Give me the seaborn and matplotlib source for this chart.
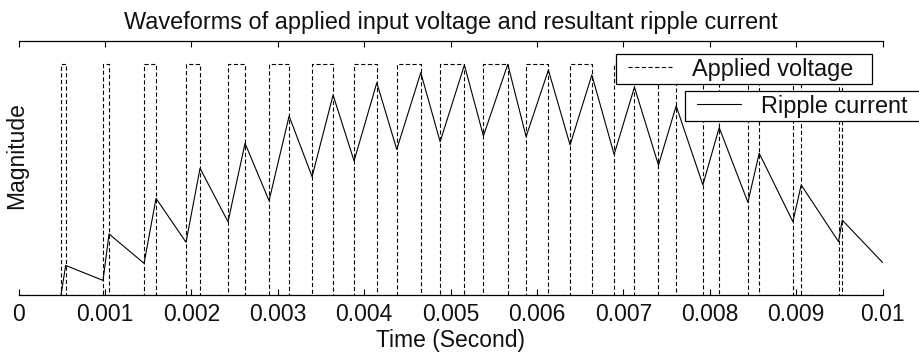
import matplotlib
matplotlib.use("Agg")
import matplotlib.pyplot as plt
from matplotlib.lines import Line2D
from matplotlib.legend_handler import HandlerLine2D
import numpy as np
import pandas as pd
import seaborn as sns

# PWM pulse edges (seconds)
pulse_rise = [0.000492, 0.000978, 0.001453, 0.001939, 0.002425, 0.002900, 0.003398,
              0.003884, 0.004378, 0.004880, 0.005381, 0.005875, 0.006384, 0.006894,
              0.007407, 0.007921, 0.008442, 0.008963, 0.009491]
pulse_fall = [0.000546, 0.001048, 0.001592, 0.002101, 0.002622, 0.003132, 0.003641,
              0.004147, 0.004656, 0.005161, 0.005663, 0.006133, 0.006636, 0.007129,
              0.007612, 0.008110, 0.008573, 0.009059, 0.009534]
voltage_high = 1.0

# ripple current at the pulse edges
current_at_rise = [0.000, 0.063, 0.137, 0.228, 0.317, 0.408, 0.512, 0.580, 0.630, 0.663,
                   0.688, 0.685, 0.649, 0.608, 0.562, 0.476, 0.401, 0.317, 0.231]
current_at_fall = [0.128, 0.264, 0.418, 0.548, 0.656, 0.774, 0.865, 0.918, 0.962, 0.995,
                   0.998, 0.973, 0.952, 0.899, 0.818, 0.724, 0.613, 0.476, 0.324]
t_end = 0.01
current_end = 0.141

xticks = [0, 0.001, 0.002, 0.003, 0.004, 0.005, 0.006, 0.007, 0.008, 0.009, 0.01]
xtick_labels = ["0", "0.001", "0.002", "0.003", "0.004", "0.005", "0.006",
                "0.007", "0.008", "0.009", "0.01"]

# square-wave voltage path
v_t, v_v = [0.0], [0.0]
for r, f in zip(pulse_rise, pulse_fall):
    v_t += [r, r, f, f]
    v_v += [0.0, voltage_high, voltage_high, 0.0]
v_t.append(t_end)
v_v.append(0.0)
voltage = pd.DataFrame({"t": v_t, "v": v_v})

# current path: rises during each pulse, decays between pulses
c_t, c_i = [], []
for r, f, ir, if_ in zip(pulse_rise, pulse_fall, current_at_rise, current_at_fall):
    c_t += [r, f]
    c_i += [ir, if_]
c_t.append(t_end)
c_i.append(current_end)
current = pd.DataFrame({"t": c_t, "i": c_i})

sns.set_theme(style="white")
plt.rcParams["font.family"] = ["Liberation Sans", "DejaVu Sans"]
plt.rcParams["lines.scale_dashes"] = False
FS_TICK = 16.5
FS_TEXT = 16.9
INK = "#111111"

W, H = 919, 356
fig = plt.figure(figsize=(W / 100, H / 100), dpi=100)
ax = fig.add_axes([18.5 / W, 1 - 295 / H, 864 / W, (295 - 40.7) / H])

dash = (0, (3.0, 1.8))
sns.lineplot(data=voltage, x="t", y="v", estimator=None, sort=False, ax=ax,
             color="black", linewidth=0.8, linestyle=dash)
sns.lineplot(data=current, x="t", y="i", estimator=None, sort=False, ax=ax,
             color="black", linewidth=0.8)

ax.set_xlim(0, 0.01)
ax.set_ylim(0, 1.1)
ax.set_xticks(xticks)
ax.set_xticklabels(xtick_labels, fontsize=FS_TICK, color=INK)
ax.set_yticks([])
ax.tick_params(axis="x", which="both", direction="in", length=4.5, width=0.8,
               color="black", top=True, bottom=True, pad=6)
for side in ["left", "right"]:
    ax.spines[side].set_visible(False)
for side in ["top", "bottom"]:
    ax.spines[side].set_color("black")
    ax.spines[side].set_linewidth(0.9)

ax.set_xlabel("Time (Second)", fontsize=FS_TICK, color=INK, labelpad=2)
ax.set_ylabel("Magnitude", fontsize=FS_TICK, color=INK)
ax.yaxis.set_label_coords(0.011, 0.547)
ax.set_title("Waveforms of applied input voltage and resultant ripple current",
             fontsize=FS_TEXT, color=INK, pad=8.5)

# two separate legend boxes
h_v = Line2D([], [], color="black", linewidth=0.8, linestyle=dash)
h_i = Line2D([], [], color="black", linewidth=0.8)
common = dict(loc="upper left", mode="expand", borderaxespad=0, borderpad=0.15,
              handlelength=2.62, handletextpad=0.45, fontsize=FS_TEXT, fancybox=False,
              shadow=False, framealpha=1, edgecolor="black", numpoints=2,
              bbox_transform=fig.transFigure)
hmap = {h_v: HandlerLine2D(numpoints=2, marker_pad=0.38),
        h_i: HandlerLine2D(numpoints=2, marker_pad=0.38)}
leg1 = ax.legend([h_v], ["Applied voltage"],
                 bbox_to_anchor=(616 / W, 1 - 54 / H, (872 - 616) / W, 0),
                 handler_map=hmap, **common)
leg1.get_frame().set_linewidth(0.9)
ax.add_artist(leg1)
leg2 = ax.legend([h_i], ["Ripple current"],
                 bbox_to_anchor=(685 / W, 1 - 91 / H, (922 - 685) / W, 0),
                 handler_map=hmap, **common)
leg2.get_frame().set_linewidth(0.9)
for lg in (leg1, leg2):
    for txt in lg.get_texts():
        txt.set_color(INK)

fig.savefig("out.png", dpi=100, facecolor="white")
